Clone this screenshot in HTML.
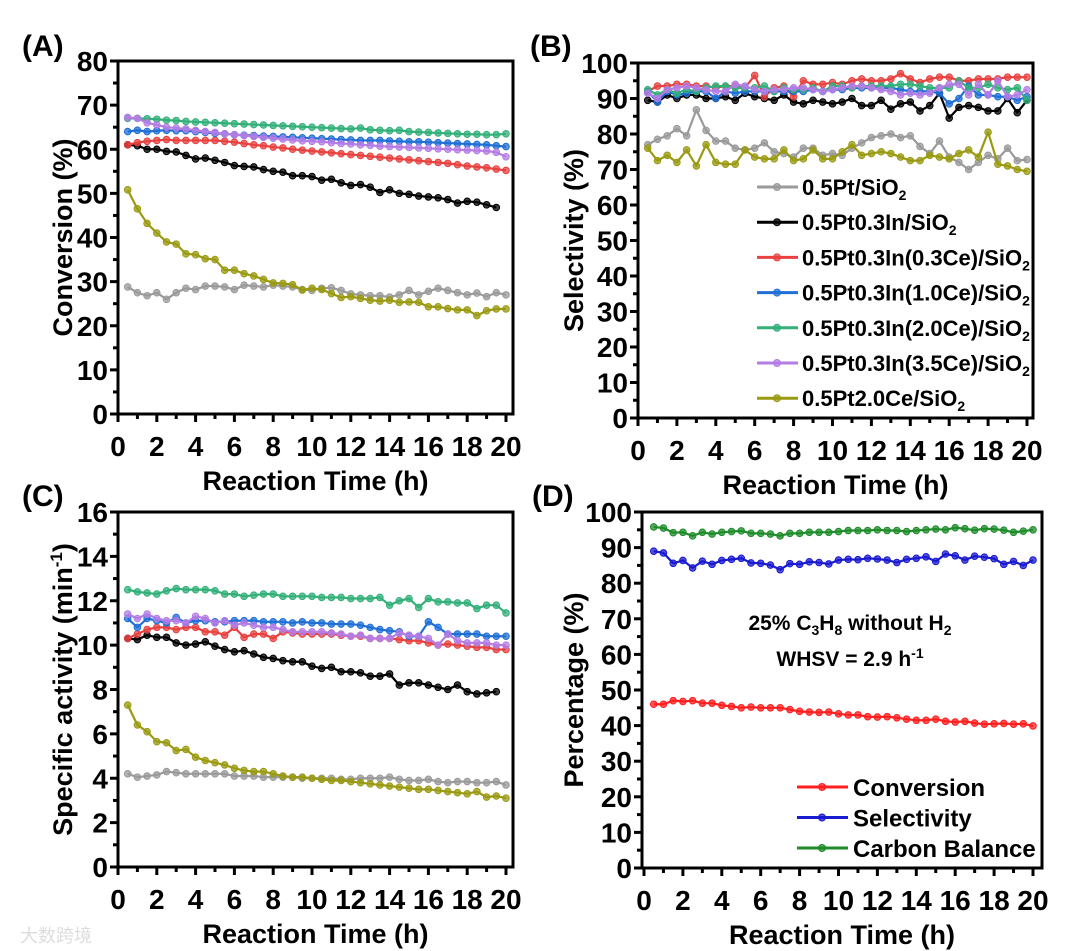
<!DOCTYPE html>
<html><head><meta charset="utf-8"><style>
html,body{margin:0;padding:0;background:#fff;}
svg{display:block;font-family:"Liberation Sans",Arial,sans-serif;font-weight:bold;}
</style></head><body>
<svg id="fig" width="1080" height="951" viewBox="0 0 1080 951" xmlns="http://www.w3.org/2000/svg">
<rect width="1080" height="951" fill="#fff"/>
<text x="22" y="56" font-size="30">(A)</text>
<text x="530" y="56" font-size="30">(B)</text>
<text x="22" y="506" font-size="30">(C)</text>
<text x="532" y="506" font-size="30">(D)</text>
<text x="20" y="942" font-size="18" fill="#ddd" font-weight="normal" font-family="'Liberation Sans','Noto Sans CJK SC',sans-serif">大数跨境</text>
</svg>
<script>
const xTicks=[0,2,4,6,8,10,12,14,16,18,20];
const seriesNames=["0.5Pt/SiO2","0.5Pt0.3In/SiO2","0.5Pt0.3In(0.3Ce)/SiO2","0.5Pt0.3In(1.0Ce)/SiO2","0.5Pt0.3In(2.0Ce)/SiO2","0.5Pt0.3In(3.5Ce)/SiO2","0.5Pt2.0Ce/SiO2"];
const seriesColors=["#9a9a9a","#000000","#e8413f","#1f6fd6","#33b07a","#b47de6","#9a9a12"];
// Panel A: conversion
const aGray=[28.8,27.5,26.8,27.5,26,27.5,28.5,28.2,29,29,28.8,28.2,29.2,29,28.8,29.2,29,28.8,28.2,28,28.5,28.6,28,27.2,27,26.8,26.8,26.5,27,28,27,27.8,28.5,28,27.5,27,27.4,26.6,27.5,27];
const aBlack=[61,60.8,60,60,59.5,59.4,58.6,57.8,58,57.5,57,56.3,56.1,56,55.4,55,54.8,54,54,53.8,53,53.2,52.4,51.8,52,51.4,50.2,50.8,50,49.8,49.4,49.2,49,48.6,47.8,48.2,48,47.4,46.8];
const aRed=[61,61.5,61.8,62,62.2,62,62,62,62,62,61.8,61.6,61.3,61,60.8,60.5,60.3,60,59.8,59.6,59.4,59.2,59,58.8,58.6,58.4,58.2,58,57.8,57.6,57.4,57.2,57,56.8,56.5,56.2,56,55.8,55.5,55.2];
const aBlue=[64,64.3,64,64.2,64.3,64.2,64.2,64,63.8,63.6,63.5,63.3,63.2,63.1,63,62.9,62.8,62.7,62.6,62.5,62.4,62.3,62.2,62.1,62,62,62,61.9,61.8,61.7,61.7,61.6,61.5,61.4,61.3,61.2,61.1,61,60.8,60.6];
const aGreen=[67,67,66.9,66.8,66.6,66.5,66.3,66.2,66.1,66,65.9,65.8,65.7,65.6,65.5,65.4,65.3,65.2,65.1,65,64.9,64.8,64.7,64.6,64.8,64.4,64.3,64.2,64.3,64,63.9,63.8,63.7,63.6,63.5,63.4,63.4,63.3,63.3,63.5];
const aPurple=[67.2,67,66,65.5,65,64.8,64.6,64.3,64,63.8,63.5,63.3,63.1,62.9,62.7,62.5,62.3,62.1,61.9,61.8,61.7,61.5,61.3,61.2,61,60.9,60.7,60.6,60.5,60.4,60.3,60.2,60.1,60,59.9,59.8,59.7,59.6,59.3,58.3];
const aOlive=[50.8,46.5,43.2,41,39,38.5,36.3,36.1,35.2,35,32.6,32.6,31.8,31.3,30.5,29.7,29.6,29.3,28.1,28.5,28.2,27.3,26.4,26.6,26.2,25.8,25.6,25.8,25.3,25.4,25.3,24.3,24.3,23.9,23.6,23.6,22.3,23.4,23.8,23.8];
const aTicks=[0,10,20,30,40,50,60,70,80];
// Panel B: selectivity
const bGray=[77,78.5,79.5,81.5,79.5,86.8,81,78,78,76,75.5,76,77.5,75,74.5,73.5,76,76,74,74.5,74,76,77.5,79,79.5,80,79,79.5,76.5,74.5,78,73.5,72,70,72,74,73,76,72.5,72.8];
const bBlack=[89.5,89,91,90,91,91,90,90,90.5,89.5,91.5,90.5,90,89.5,91,89,88.5,89.5,89,88.5,89,90,88,88,89.5,87,88.5,89,86.5,88,91.5,84.5,87.5,88,87.5,86.5,86.5,90,86,89.5];
const bRed=[92,93.5,93.5,94,94,93.5,93.5,93,93.5,93.5,93,96.5,90.5,93,93.5,90.5,95,94,94,94.5,94,95,95.5,95,95,95.5,97,95.5,94.5,95.5,96,96,95,95,95.5,95.5,95.5,96,96,96];
const bBlue=[92,89,92,91,91.5,92,92,90,92,91.5,92,92,92,92,92,92,92,92.5,92,92.5,92.5,93,93,93,93,93,92.5,92,92,92,91.5,88.5,90,93.5,91,91,90.5,90.5,89.5,90.5];
const bGreen=[92.5,91,92.5,91.5,92.5,92,93,93.5,93.5,93,93,93,93.5,92,93,92.5,92.5,93,92,93.5,93.5,93,93.5,93.5,93.5,93.5,94,94,93.5,93,93,93,95,93,93,94,93,92.5,93,89.5];
const bPurple=[91.5,90,92.5,93,93.5,93,92.5,92,92,94,93.5,92.5,92,92.5,92.5,93,93,92.5,92,92.5,93,93.5,93.5,93,92.5,92,91,91.5,91,91.5,93,94,94,91,94,91,95,90.5,91,92.5];
const bOlive=[76,72.5,74,72,75.5,71,77,72,71.5,71.5,75.5,73.5,73,73,75.5,72.5,73,75.5,73,73,75,77,74,74.5,75,74.5,73.5,72.5,72.5,74,73.5,73,74.5,75.5,73.5,80.5,71.5,71,70,69.5];
const bTicks=[0,10,20,30,40,50,60,70,80,90,100];
// Panel C: specific activity
const cGray=[4.2,4.05,4.1,4.15,4.3,4.25,4.2,4.2,4.2,4.2,4.2,4.1,4.1,4.1,4.05,4.05,4.05,4.05,4.0,4.0,4.0,4.0,3.95,3.95,4.0,4.0,4.0,4.05,3.95,3.9,3.9,3.95,3.85,3.8,3.85,3.85,3.8,3.8,3.85,3.7];
const cBlack=[10.3,10.25,10.45,10.35,10.35,10.1,10.0,10.05,10.15,9.95,9.8,9.7,9.75,9.6,9.45,9.4,9.3,9.25,9.25,9.05,8.95,9.0,8.8,8.8,8.75,8.6,8.6,8.7,8.2,8.3,8.3,8.2,8.1,8.0,8.2,7.9,7.8,7.85,7.9];
const cRed=[10.3,10.5,10.7,10.8,10.8,10.7,10.8,10.8,10.6,10.6,10.45,10.8,10.35,10.5,10.5,10.3,10.6,10.55,10.5,10.5,10.5,10.5,10.45,10.4,10.4,10.3,10.3,10.3,10.25,10.2,10.2,10.1,10,10.05,10,9.95,9.9,9.9,9.8,9.8];
const cBlue=[11.2,10.8,11.2,11.1,11,11.25,11,11.1,11.1,11.05,11.05,11.1,11.1,11.1,11.05,11.05,11.05,11.0,11.05,11,11,10.95,10.95,10.95,10.9,10.8,10.7,10.65,10.6,10.4,10.4,11.05,10.8,10.5,10.5,10.5,10.5,10.4,10.4,10.4];
const cGreen=[12.5,12.4,12.35,12.3,12.45,12.55,12.5,12.5,12.5,12.45,12.3,12.3,12.2,12.25,12.3,12.3,12.2,12.2,12.2,12.2,12.15,12.15,12.15,12.1,12.1,12.1,12.15,11.8,12.0,12.1,11.7,12.1,11.95,11.95,11.9,11.9,11.65,11.8,11.8,11.45];
const cPurple=[11.4,11.2,11.4,11.2,11.1,11.1,11.0,11.3,11.2,11,11.1,10.9,11,10.9,10.8,10.8,10.7,10.6,10.6,10.6,10.6,10.55,10.5,10.4,10.45,10.3,10.3,10.3,10.55,10.45,10.4,10.3,10.0,10.5,10.2,10.1,10.1,10.1,10.0,10.0];
const cOlive=[7.3,6.4,6.1,5.65,5.6,5.25,5.3,4.95,4.8,4.7,4.6,4.45,4.35,4.3,4.3,4.2,4.1,4.05,4.05,4.0,3.95,3.9,3.9,3.85,3.8,3.75,3.7,3.65,3.6,3.55,3.5,3.5,3.45,3.4,3.35,3.3,3.4,3.15,3.2,3.1];
const cTicks=[0,2,4,6,8,10,12,14,16];
// Panel D
const dNames=["Conversion","Selectivity","Carbon Balance"];
const dColors=["#ff1f1f","#1a1ad0","#1e8c2a"];
const dConv=[46,46,47,46.8,47,46.3,46.3,45.7,45.4,45,45.2,45,45,45,44.5,44,43.8,43.7,43.8,43.3,43,43,42.5,42.4,42.5,42.2,41.8,41.5,41.5,41.8,41.2,41,41.2,40.7,40.4,40.5,40.6,40.4,40.5,39.9];
const dSel=[89,88.5,85.6,86.4,84.3,86.2,85.3,86.4,86.7,87,85.7,85.6,85.1,83.8,85.5,85.3,86,85.8,85.4,86.5,86.7,86.6,87,86.8,86.5,85.8,86.7,87,87.4,86.1,88.2,87.7,86.5,87.6,87.3,86.9,85.3,86.1,85,86.5];
const dCarb=[95.8,95.5,94.2,94.3,93.3,94.3,93.8,94.3,94.5,94.7,94,94,93.8,93.3,94,94,94.3,94.3,94.3,94.5,94.8,94.8,94.8,95,94.8,94.8,94.5,94.8,95,95.2,95,95.6,95.3,94.9,95.3,95.2,94.9,94.3,94.6,95];
const dTicks=[0,10,20,30,40,50,60,70,80,90,100];

const svg=document.getElementById('fig');
const NS='http://www.w3.org/2000/svg';
function mk(tag,attrs,parent){const e=document.createElementNS(NS,tag);for(const k in attrs)e.setAttribute(k,attrs[k]);(parent||svg).appendChild(e);return e;}

function panel(p){
  const g=mk('g',{});
  
  
  const sx=v=>p.x0+(v-0)/20*(p.x20-p.x0);
  const sy=v=>p.yB+(v-p.ymin)/(p.ymax-p.ymin)*(p.yT-p.yB);
  p.series.forEach((s,si)=>{
    const sg=mk('g',{},g);
    
    
    const pts=s.vals.map((v,i)=>[sx(0.5*(i+1)),sy(v)]);
    const pl=mk('polyline',{points:pts.map(q=>q.join(',')).join(' '),fill:'none',stroke:s.color,'stroke-width':2.2,'stroke-linejoin':'round'},sg);
    
    
    pts.forEach(q=>{
      const c=mk('circle',{cx:q[0],cy:q[1],r:3.3,fill:s.color,stroke:s.color,'stroke-width':1,'fill-opacity':0.75},sg);
      
      
    });
  });
  const fr=mk('rect',{x:p.fx0,y:p.yT,width:p.fx1-p.fx0,height:p.yB-p.yT,fill:'none',stroke:'#000','stroke-width':3},g);
  
  
  for(let v=0;v<=20;v+=1){
    const major=v%2===0;
    mk('line',{x1:sx(v),x2:sx(v),y1:p.yB,y2:p.yB+(major?8:5),stroke:'#000','stroke-width':3},g);
  }
  xTicks.forEach(v=>{
    const t=mk('text',{x:sx(v),y:p.yB+42,'font-size':28,'text-anchor':'middle'},g);
    t.textContent=v;
    
    
  });
  const step=p.yt[1]-p.yt[0];
  for(let v=p.ymin;v<=p.ymax+1e-9;v+=step/2){
    const major=Math.abs(((v-p.ymin)/step)-Math.round((v-p.ymin)/step))<1e-6;
    mk('line',{x1:p.fx0,x2:p.fx0-(major?8:5),y1:sy(v),y2:sy(v),stroke:'#000','stroke-width':3},g);
  }
  p.yt.forEach(v=>{
    const t=mk('text',{x:p.fx0-10,y:sy(v)+10,'font-size':28,'text-anchor':'end'},g);
    t.textContent=v;
    
    
  });
  const xt=mk('text',{x:(p.fx0+p.fx1)/2,y:p.yB+76,'font-size':27,'text-anchor':'middle'},g);
  xt.textContent='Reaction Time (h)';
  
  
  const yt=mk('text',{x:0,y:0,'font-size':27,'text-anchor':'middle',transform:`translate(${p.ytx},${(p.yT+p.yB)/2}) rotate(-90)`},g);
  yt.innerHTML=p.ytitle;
  
  
  return {g,sx,sy};
}
const keys=['pt','ptin','ce03','ce10','ce20','ce35','pt2ce'];
function mkSeries(arrs){return arrs.map((a,i)=>({key:keys[i],vals:a,color:seriesColors[i]}));}

panel({id:'panel-a-conversion',x0:118,x20:506,fx0:118,fx1:513,yT:61,yB:414,ymin:0,ymax:80,yt:aTicks,ytx:72,ytitle:'Conversion (%)',
  series:mkSeries([aGray,aBlack,aRed,aBlue,aGreen,aPurple,aOlive])});
panel({id:'panel-b-selectivity',x0:638,x20:1027,fx0:638,fx1:1033,yT:63,yB:418,ymin:0,ymax:100,yt:bTicks,ytx:583,ytitle:'Selectivity (%)',
  series:mkSeries([bGray,bBlack,bRed,bBlue,bGreen,bPurple,bOlive])});
panel({id:'panel-c-specific-activity',x0:118,x20:506,fx0:118,fx1:513,yT:512,yB:867,ymin:0,ymax:16,yt:cTicks,ytx:72,ytitle:'Specific activity (min<tspan dy="-10" font-size="17">-1</tspan><tspan dy="10">)</tspan>',
  series:mkSeries([cGray,cBlack,cRed,cBlue,cGreen,cPurple,cOlive])});
panel({id:'panel-d-percentage',x0:644,x20:1033,fx0:642,fx1:1042,yT:512,yB:868,ymin:0,ymax:100,yt:dTicks,ytx:583,ytitle:'Percentage (%)',
  series:[{key:'conversion',vals:dConv,color:dColors[0]},{key:'selectivity',vals:dSel,color:dColors[1]},{key:'carbon-balance',vals:dCarb,color:dColors[2]}]});

seriesNames.forEach((n,i)=>{
  const y=187+i*35.2;
  const lg=mk('g',{});
  
  
  mk('line',{x1:757,x2:798,y1:y,y2:y,stroke:seriesColors[i],'stroke-width':3},lg);
  mk('circle',{cx:777,cy:y,r:3.5,fill:seriesColors[i],'fill-opacity':0.75,stroke:seriesColors[i]},lg);
  const t=mk('text',{x:802,y:y+8,'font-size':22},lg);
  t.innerHTML=n.replace('SiO2','SiO<tspan dy="5" font-size="14">2</tspan>');
});
dNames.forEach((n,i)=>{
  const y=787+i*30.5;
  const lg=mk('g',{});
  
  
  mk('line',{x1:797,x2:848,y1:y,y2:y,stroke:dColors[i],'stroke-width':3},lg);
  mk('circle',{cx:822,cy:y,r:3.5,fill:dColors[i],'fill-opacity':0.75,stroke:dColors[i]},lg);
  const t=mk('text',{x:853,y:y+9,'font-size':24},lg);
  t.textContent=n;
});
const a1=mk('text',{x:850,y:630,'font-size':21,'text-anchor':'middle'});
a1.innerHTML='25% C<tspan dy="5" font-size="14">3</tspan><tspan dy="-5">H</tspan><tspan dy="5" font-size="14">8</tspan><tspan dy="-5"> without H</tspan><tspan dy="5" font-size="14">2</tspan>';


const a2=mk('text',{x:850,y:666,'font-size':21,'text-anchor':'middle'});
a2.innerHTML='WHSV = 2.9 h<tspan dy="-8" font-size="14">-1</tspan>';


</script>
</body></html>
